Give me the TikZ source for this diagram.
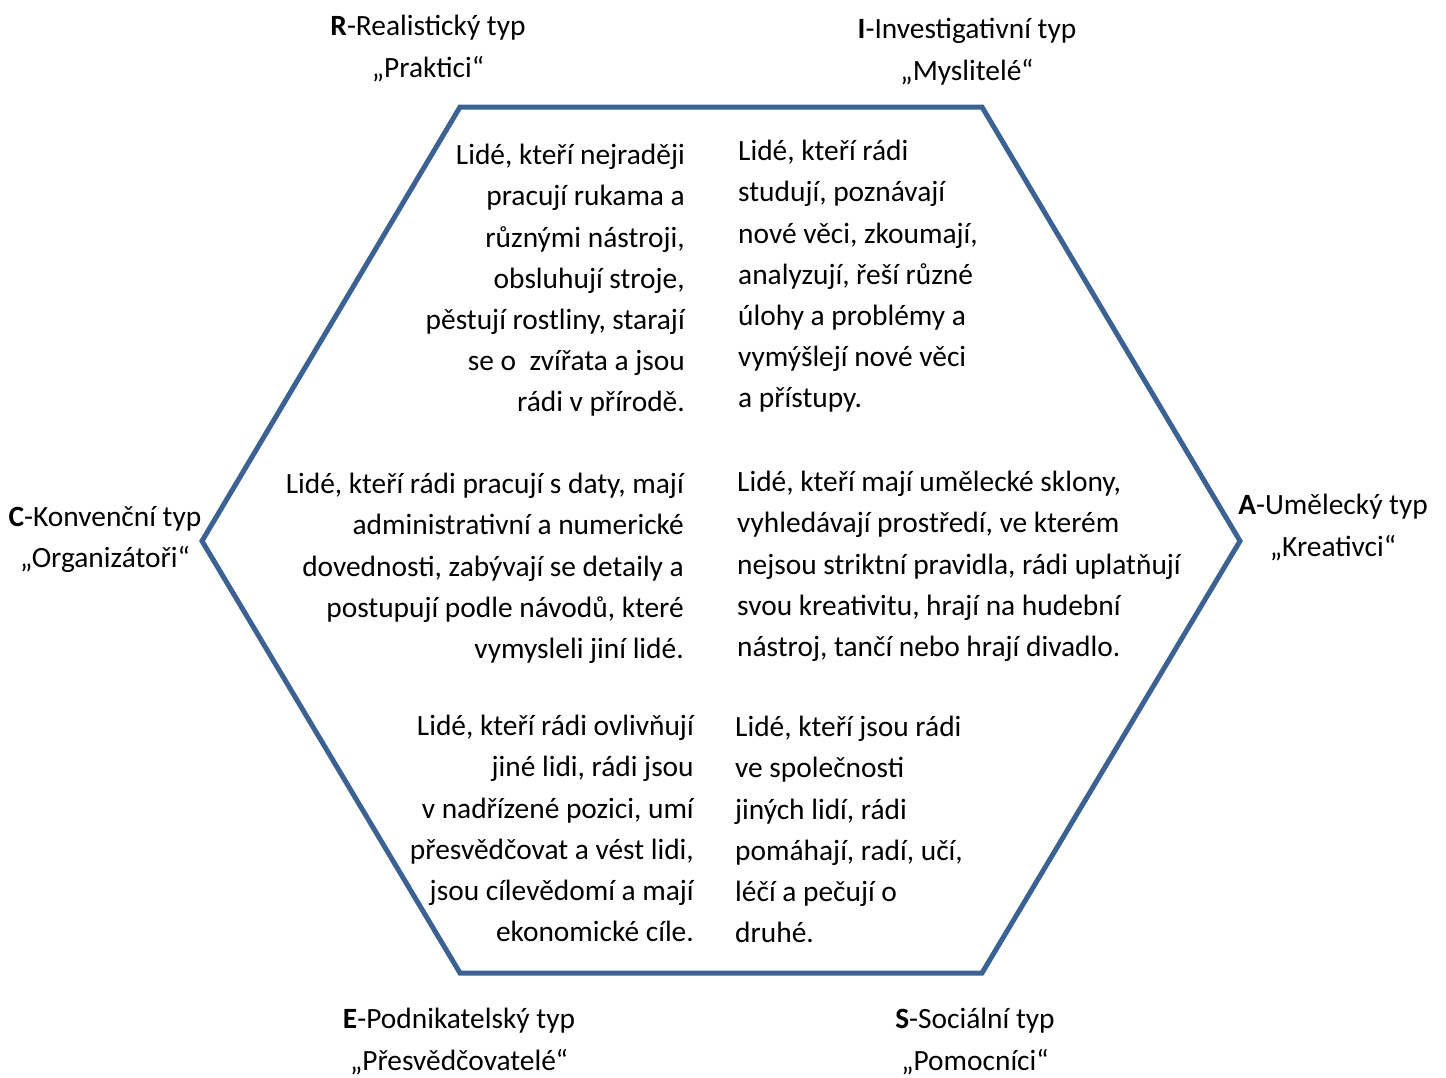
\documentclass[tikz,border=0pt]{standalone}
\usepackage{fontspec}
\setmainfont{Carlito}
\definecolor{hexblue}{HTML}{3B6293}
\begin{document}
\begin{tikzpicture}[x=1pt,y=-1pt,
  body/.style={inner sep=0pt,font=\fontsize{29.4}{41.2}\selectfont},
  rblock/.style={body,align=right,anchor=north east},
  lblock/.style={body,align=left,anchor=north west},
  lab/.style={inner sep=0pt,align=center,anchor=north,font=\fontsize{29.4}{41.5}\selectfont},
  hexline/.style={draw=hexblue,line width=5pt,line join=miter}]
\useasboundingbox (0,0) rectangle (1446,1077);
\coordinate (h1) at (460,107);
\coordinate (h2) at (982,107);
\coordinate (h3) at (1240,541);
\coordinate (h4) at (982,973);
\coordinate (h5) at (460,973);
\coordinate (h6) at (202,541);
\draw[hexline] (h1) -- (h2) -- (h3) -- (h4) -- (h5) -- (h6) -- cycle;

\node[rblock] (tl) at (685,144) {Lidé, kteří nejraději\\pracují rukama a\\různými nástroji,\\obsluhují stroje,\\pěstují rostliny, starají\\se o \ zvířata a jsou\\rádi v přírodě.};
\node[lblock] (tr) at (738,140) {Lidé, kteří rádi\\studují, poznávají\\nové věci, zkoumají,\\analyzují, řeší různé\\úlohy a problémy a\\vymýšlejí nové věci\\a přístupy.};
\node[rblock] (ml) at (684,473) {Lidé, kteří rádi pracují s daty, mají\\administrativní a numerické\\dovednosti, zabývají se detaily a\\postupují podle návodů, které\\vymysleli jiní lidé.};
\node[lblock] (mr) at (737,471) {Lidé, kteří mají umělecké sklony,\\vyhledávají prostředí, ve kterém\\nejsou striktní pravidla, rádi uplatňují\\svou kreativitu, hrají na hudební\\nástroj, tančí nebo hrají divadlo.};
\node[rblock] (bl) at (694,715) {Lidé, kteří rádi ovlivňují\\jiné lidi, rádi jsou\\v nadřízené pozici, umí\\přesvědčovat a vést lidi,\\jsou cílevědomí a mají\\ekonomické cíle.};
\node[lblock] (br) at (735,716) {Lidé, kteří jsou rádi\\ve společnosti\\jiných lidí, rádi\\pomáhají, radí, učí,\\léčí a pečují o\\druhé.};

\node[lab] (R) at (428,15) {\textbf{R}-Realistický typ\\„Praktici“};
\node[lab] (I) at (967,18) {\textbf{I}-Investigativní typ\\„Myslitelé“};
\node[lab] (C) at (105,506) {\textbf{C}-Konvenční typ\\„Organizátoři“};
\node[lab] (A) at (1333,494) {\textbf{A}-Umělecký typ\\„Kreativci“};
\node[lab] (E) at (459,1008) {\textbf{E}-Podnikatelský typ\\„Přesvědčovatelé“};
\node[lab] (S) at (975,1008) {\textbf{S}-Sociální typ\\„Pomocníci“};
\end{tikzpicture}
\end{document}
